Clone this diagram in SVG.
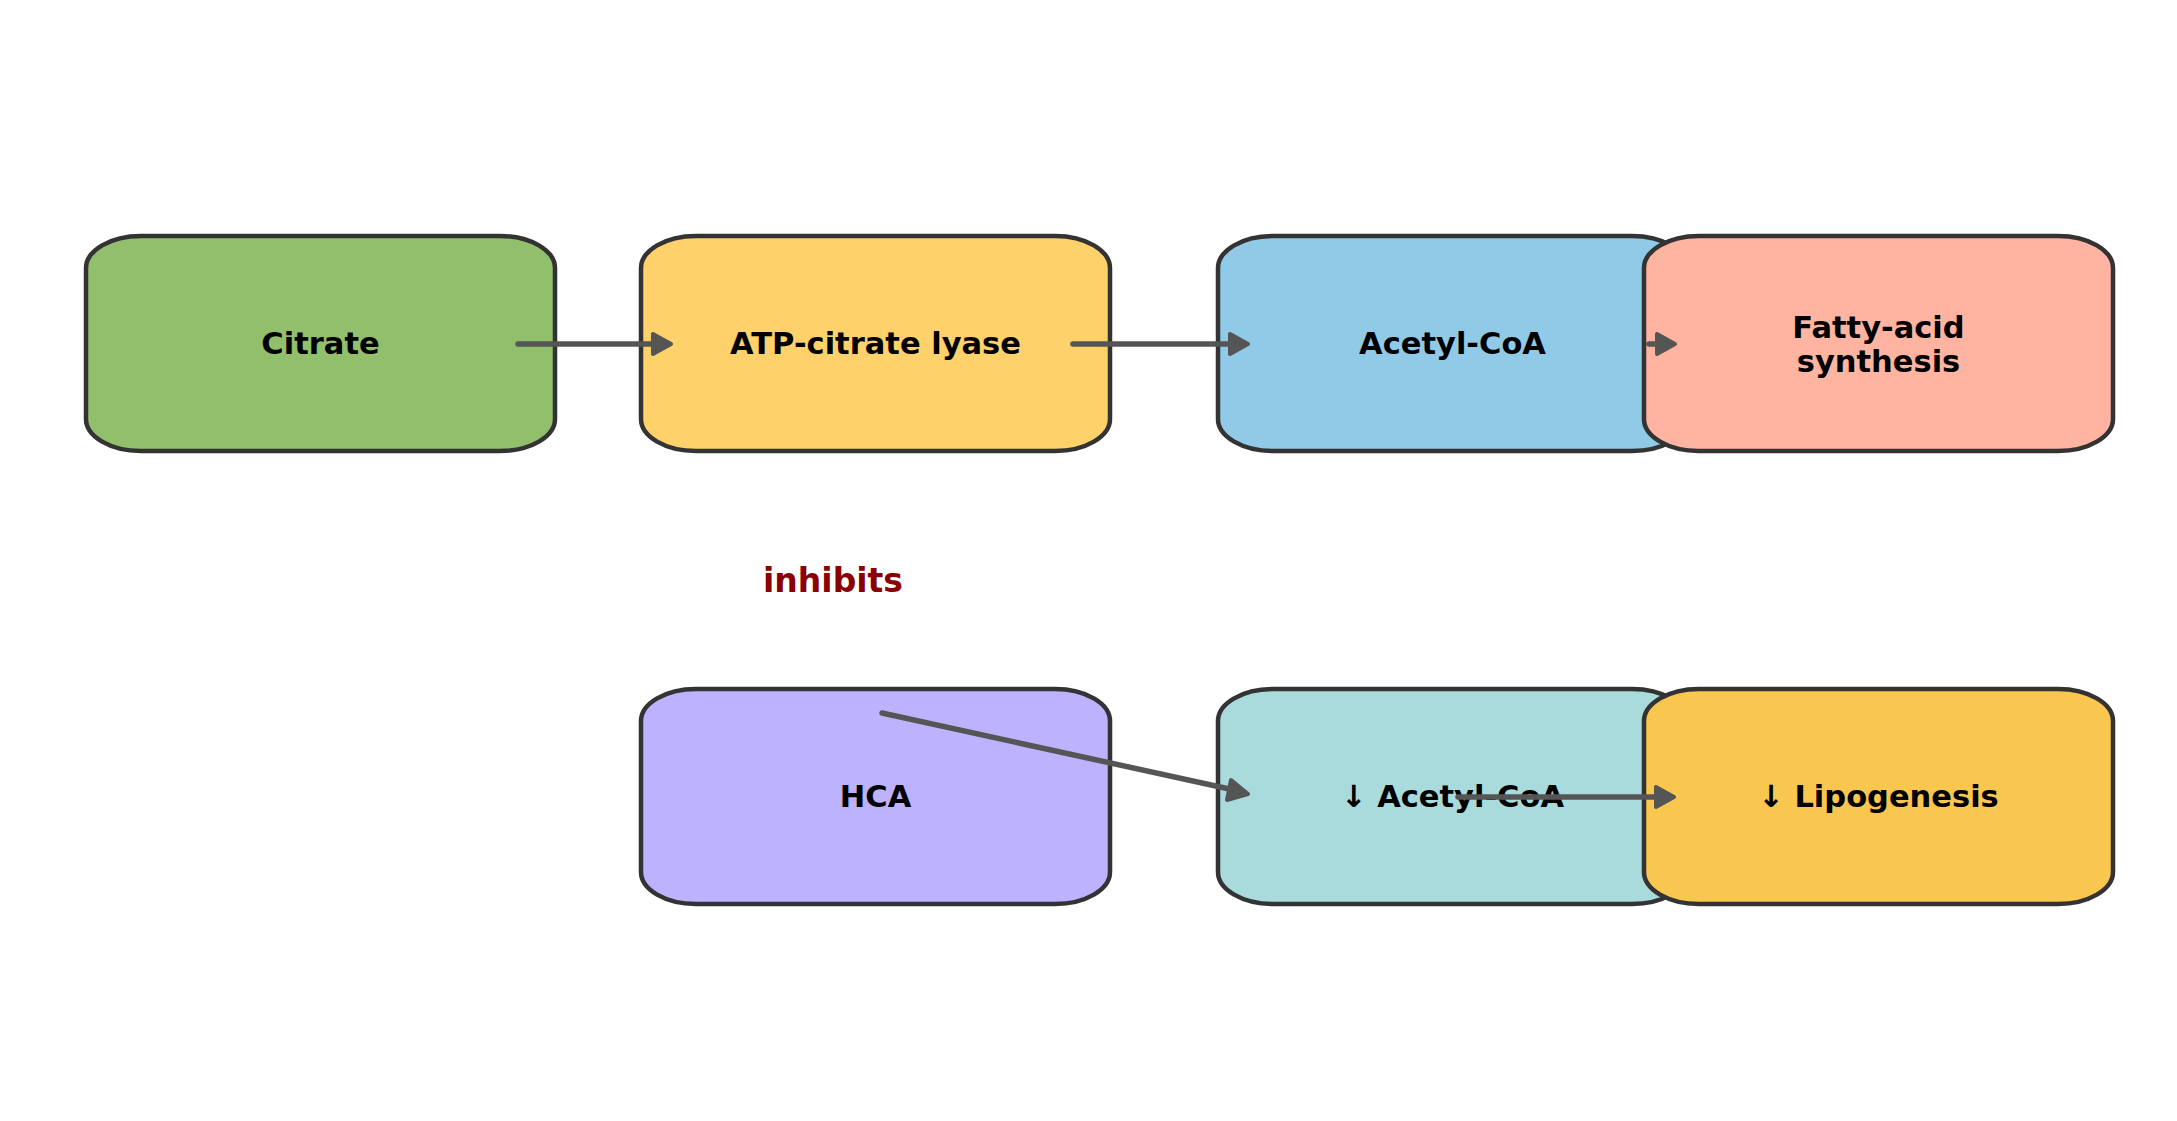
<svg xmlns="http://www.w3.org/2000/svg" width="2177" height="1121" viewBox="0 0 2177 1121">
<style>
.box{stroke:#333333;stroke-width:4.5}
.lbl{font-family:"DejaVu Sans","Liberation Sans",sans-serif;font-weight:bold;font-size:30.5px;fill:#000;text-anchor:middle}
.edge{stroke:#555555;stroke-width:5.5;stroke-linecap:round;fill:none}
.head{fill:#555555;stroke:#555555;stroke-width:4;stroke-linejoin:round}
</style>
<rect width="2177" height="1121" fill="#ffffff"/>
<g id="node-citrate"><rect class="box" x="86" y="236" width="469" height="215" rx="55" ry="32" fill="#91BF6C"/><text class="lbl" x="320.5" y="354">Citrate</text></g>
<g id="node-acl"><rect class="box" x="641" y="236" width="469" height="215" rx="55" ry="32" fill="#FED16A"/><text class="lbl" x="875.5" y="354">ATP-citrate lyase</text></g>
<g id="node-acetylcoa"><rect class="box" x="1218" y="236" width="469" height="215" rx="55" ry="32" fill="#90CAE6"/><text class="lbl" x="1452.5" y="354">Acetyl-CoA</text></g>
<g id="node-fas"><rect class="box" x="1644" y="236" width="469" height="215" rx="55" ry="32" fill="#FFB4A2"/><text class="lbl" x="1878.5" y="338">Fatty-acid</text><text class="lbl" x="1878.5" y="372">synthesis</text></g>
<g id="node-hca"><rect class="box" x="641" y="689" width="469" height="215" rx="55" ry="32" fill="#BDB2FE"/><text class="lbl" x="875.5" y="807">HCA</text></g>
<g id="node-acetylcoa-down"><rect class="box" x="1218" y="689" width="469" height="215" rx="55" ry="32" fill="#A9DBDD"/><text class="lbl" x="1452.5" y="807">↓ Acetyl-CoA</text></g>
<g id="node-lipo-down"><rect class="box" x="1644" y="689" width="469" height="215" rx="55" ry="32" fill="#F9C74F"/><text class="lbl" x="1878.5" y="807">↓ Lipogenesis</text></g>
<text id="label-inhibits" x="833" y="592" font-family="DejaVu Sans, Liberation Sans, sans-serif" font-weight="bold" font-size="33" fill="#8B0000" text-anchor="middle">inhibits</text>
<g id="connectors">
<line class="edge" x1="518" y1="344" x2="656" y2="344"/><polygon class="head" points="671,344 653,334 653,354"/>
<line class="edge" x1="1073" y1="344" x2="1233" y2="344"/><polygon class="head" points="1248,344 1230,334 1230,354"/>
<line class="edge" x1="1649" y1="344" x2="1660" y2="344"/><polygon class="head" points="1675,344 1657,334 1657,354"/>
<line class="edge" x1="882" y1="713" x2="1234" y2="790"/><polygon class="head" points="1248,794 1231,780 1227,800"/>
<line class="edge" x1="1458" y1="797" x2="1659" y2="797"/><polygon class="head" points="1674,797 1656,787 1656,807"/>
</g>
</svg>
